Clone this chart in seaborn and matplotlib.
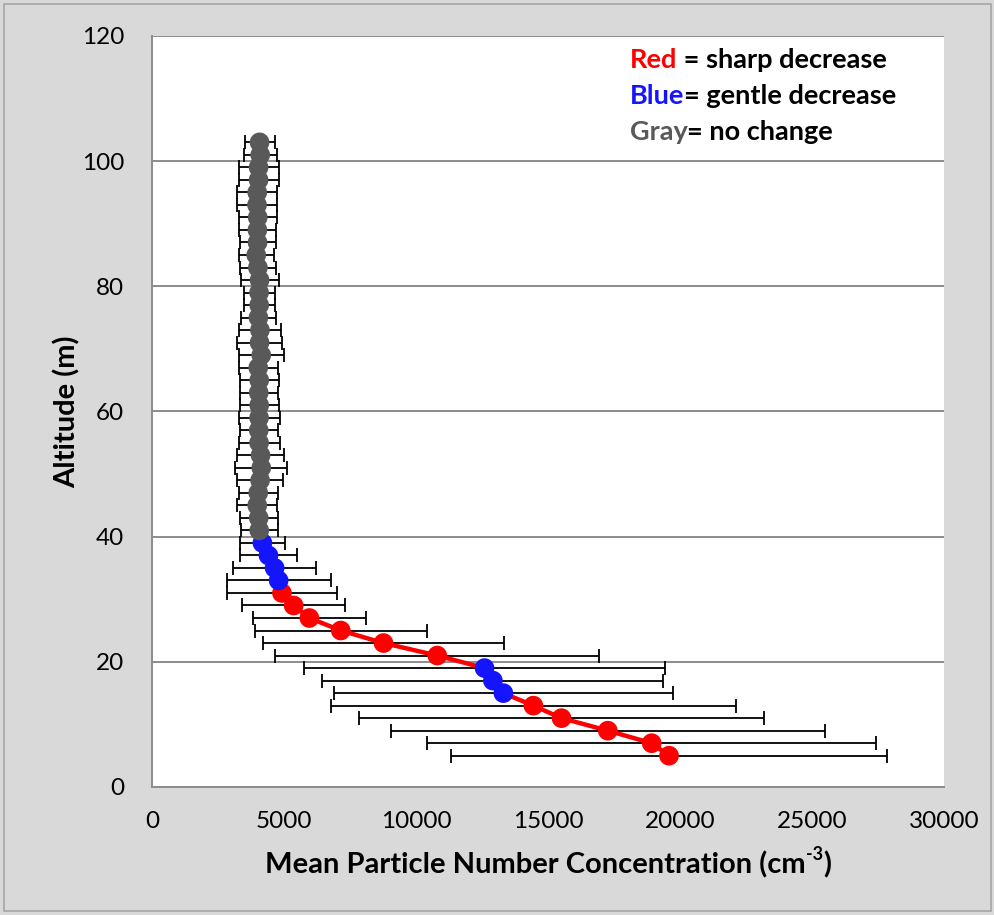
import numpy as np
import pandas as pd
import matplotlib
matplotlib.use("Agg")
import matplotlib.pyplot as plt
import seaborn as sns

# Altitude levels (m) and mean particle number concentration (cm^-3) with std dev
altitude = [5, 7, 9, 11, 13, 15, 17, 19, 21, 23, 25, 27, 29, 31, 33, 35, 37, 39,
            41, 43, 45, 47, 49, 51, 53, 55, 57, 59, 61, 63, 65, 67, 69, 71, 73,
            75, 77, 79, 81, 83, 85, 87, 89, 91, 93, 95, 97, 99, 101, 103]
concentration = [19585, 18928, 17266, 15512, 14446, 13309, 12912, 12596, 10805,
                 8769, 7150, 5960, 5365, 4922, 4796, 4644, 4410, 4181,
                 4061, 4042, 3985, 4023, 4093, 4138, 4111, 4055, 4042, 4055,
                 4061, 4042, 4061, 4023, 4137, 4073, 4087, 4030, 4060, 4055,
                 4074, 4010, 3947, 3998, 3992, 4004, 3978, 3985, 4036, 4036,
                 4098, 4074]
std_dev = [8256, 8495, 8231, 7667, 7676, 6426, 6458, 6840, 6136, 4581, 3253,
           2127, 1962, 2101, 1975, 1582, 1095, 842,
           708, 727, 760, 746, 867, 987, 885, 778, 727, 778, 746, 727, 746,
           746, 860, 848, 810, 652, 582, 588, 721, 695, 670, 683, 715, 727,
           752, 760, 759, 759, 633, 570]
trend = (["sharp"] * 5 + ["gentle"] * 3 + ["sharp"] * 6 + ["gentle"] * 4
         + ["none"] * 32)

trend_colors = {"sharp": "#ff0000", "gentle": "#1414ff", "none": "#595959"}

df = pd.DataFrame({"alt": altitude, "conc": concentration,
                   "sd": std_dev, "trend": trend})

sns.set_theme(style="white")
plt.rcParams["font.family"] = ["Lato", "DejaVu Sans"]
plt.rcParams["text.color"] = "black"
plt.rcParams["axes.labelcolor"] = "black"

fig = plt.figure(figsize=(9.95, 9.15), dpi=100, facecolor="#d9d9d9")
ax = fig.add_axes([0.1528, 0.1399, 0.7959, 0.8208])
ax.set_facecolor("white")

# horizontal error bars
ax.errorbar(df["conc"], df["alt"], xerr=df["sd"], fmt="none",
            ecolor="black", elinewidth=1.3, capsize=5, capthick=1.3, zorder=2)

# connecting profile line
sns.lineplot(data=df, x="conc", y="alt", sort=False, estimator=None,
             color="#ff0000", linewidth=3.2, ax=ax, zorder=3)

# markers coloured by trend class
sns.scatterplot(data=df, x="conc", y="alt", hue="trend",
                palette=trend_colors, s=200, linewidth=0, ax=ax,
                legend=False, zorder=4)

ax.set_xlim(0, 30000)
ax.set_ylim(0, 120)
ax.set_xticks(np.arange(0, 30001, 5000))
ax.set_yticks(np.arange(0, 121, 20))
ax.yaxis.grid(True, color="#8c8c8c", linewidth=1.4)
ax.xaxis.grid(False)
ax.set_axisbelow(True)

for side in ["top", "right"]:
    ax.spines[side].set_visible(False)
for side in ["left", "bottom"]:
    ax.spines[side].set_color("#8c8c8c")
    ax.spines[side].set_linewidth(1.4)

ax.tick_params(axis="both", which="major", direction="out", length=8,
               width=1.4, color="#8c8c8c", labelsize=17.5, labelcolor="black")
ax.tick_params(axis="x", pad=9)
ax.tick_params(axis="y", pad=12)

ax.set_xlabel("")
ax.set_ylabel("Altitude (m)", fontsize=21, fontweight="bold", labelpad=1,
              color="black")

# x-axis title with a real superscript, assembled from pieces
fig.canvas.draw()
renderer = fig.canvas.get_renderer()
title_y = 1 - 865 / 915
p1 = fig.text(0, title_y, "Mean Particle Number Concentration (cm",
              fontsize=21, fontweight="bold", va="center", ha="left",
              color="black")
p2 = fig.text(0, title_y + 0.012, "-3", fontsize=13, fontweight="bold",
              va="center", ha="left", color="black")
p3 = fig.text(0, title_y, ")", fontsize=21, fontweight="bold",
              va="center", ha="left", color="black")
widths = [p.get_window_extent(renderer).width / fig.bbox.width
          for p in (p1, p2, p3)]
x0 = (0.1528 + 0.7959 / 2) - sum(widths) / 2
p1.set_x(x0)
p2.set_x(x0 + widths[0])
p3.set_x(x0 + widths[0] + widths[1])

# colour key text
key = [("Red", " = sharp decrease", "#ff0000", 0.968),
       ("Blue", "= gentle decrease", "#1414ff", 0.920),
       ("Gray", "= no change", "#595959", 0.872)]
for word, rest, col, yy in key:
    t = ax.text(0.603, yy, word, transform=ax.transAxes, color=col,
                fontsize=19.5, fontweight="bold", va="center", ha="left")
    ax.annotate(rest, xy=(1, 0.5), xycoords=t, va="center", ha="left",
                fontsize=19.5, fontweight="bold", color="black")

# thin frame around the chart area
fig.patches.append(plt.Rectangle((0.004, 0.004), 0.992, 0.992,
                                 transform=fig.transFigure, fill=False,
                                 edgecolor="#a6a6a6", linewidth=1.2))

fig.savefig("out.png", dpi=100, facecolor=fig.get_facecolor())
